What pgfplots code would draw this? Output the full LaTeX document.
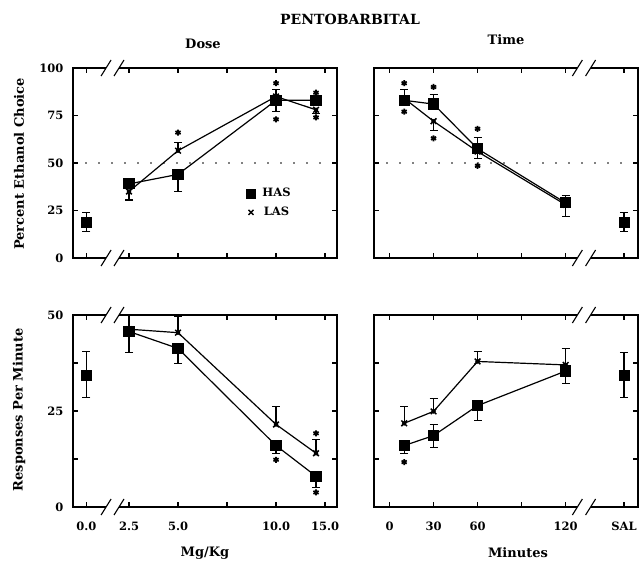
\documentclass[border=0pt]{standalone}
\usepackage{fontspec}
\setmainfont{DejaVu Serif}
\usepackage{pgfplots}
\pgfplotsset{compat=1.18}

\pgfplotsset{
  panel/.style={
    scale only axis, clip=false, tick align=inside,
    axis line style={line width=1.5pt},
    major tick length=5pt,
    every tick/.style={line width=1.1pt, black},
    every tick label/.append style={font=\bfseries\fontsize{11.5}{13}\selectfont},
    /pgf/number format/assume math mode=true,
    xticklabel style={yshift=-11pt},
    yticklabel style={xshift=-6pt},
  },
  has/.style={black, line width=1.2pt, mark=square*, mark size=5pt, mark options={solid}, forget plot},
  las/.style={black, line width=1.2pt, mark=x, mark size=4pt, mark options={solid, line width=1.5pt}, forget plot},
  ebar/.style={only marks, mark=none, forget plot, error bars/.cd, y explicit, y dir=#1,
     error bar style={line width=1.1pt, black},
     error mark options={rotate=90, mark size=4pt, line width=1.1pt, black}},
  star/.style={only marks, mark=asterisk, mark size=3pt, mark options={line width=1.7pt}, black, forget plot},
  sal/.style={only marks, mark=square*, mark size=5pt, black, forget plot},
  refl/.style={forget plot, black, line width=1.8pt, line cap=round, dash pattern=on 0pt off 13pt},
}
\newcommand{\brk}[3]{%
  \draw[white, line width=3pt] (axis cs:#1,#3) -- (axis cs:#2,#3);
  \draw[line width=1.1pt] ([shift={(-5pt,-8pt)}]axis cs:#1,#3) -- ([shift={(5pt,8pt)}]axis cs:#1,#3);
  \draw[line width=1.1pt] ([shift={(-5pt,-8pt)}]axis cs:#2,#3) -- ([shift={(5pt,8pt)}]axis cs:#2,#3);
}

\begin{document}
\begin{tikzpicture}[font=\bfseries]

% ---------- Top left: Dose / Percent ----------
\begin{axis}[panel, at={(73pt,-258pt)}, anchor=south west, width=264pt, height=190pt,
  xmin=-0.357, xmax=13.11, ymin=0, ymax=100,
  xtick={0.33,2.5,5,7.5,10,12.5}, xticklabels={},
  ytick={0,25,50,75,100},
  legend style={draw=none, fill=none, at={(0.645,0.389)}, anchor=north west,
    font=\bfseries\fontsize{11.5}{13}\selectfont, row sep=5pt}]
\addplot[refl] coordinates {(-0.357,50) (13.11,50)};
\addplot[ebar=plus] table[x=x,y=y,y error=e] {
x y e
0.33 19 5
2.5 39 2
5 56.5 4.5
10 85 3.5
12.04 83 2
};
\addplot[ebar=minus] table[x=x,y=y,y error=e] {
x y e
0.33 19 5
2.5 35 4.5
5 44 9
10 83 6
12.04 78 2
};
\addplot[has] table[x=x,y=y] {
x y
2.5 39
5 44
10 83
12.04 83
};
\addplot[las] table[x=x,y=y] {
x y
2.5 35
5 56.5
10 85
12.04 78
};
\addplot[sal] coordinates {(0.33,19)};
\addplot[star] coordinates {(5,66) (10,92) (10,73) (12.04,87) (12.04,74)};
\addlegendimage{only marks, mark=square*, mark size=4.5pt, black}
\addlegendentry{\hspace{5pt}HAS}
\addlegendimage{only marks, mark=x, mark size=3.5pt, black, mark options={line width=1.4pt}}
\addlegendentry{\hspace{5pt}LAS}
\brk{1.33}{1.99}{0}
\brk{1.33}{1.99}{100}
\end{axis}

% ---------- Top right: Time / Percent ----------
\begin{axis}[panel, at={(374pt,-258pt)}, anchor=south west, width=264pt, height=190pt,
  xmin=-10.57, xmax=169.3, ymin=0, ymax=100,
  xtick={0,30,60,90,120,159.75}, xticklabels={},
  ytick={0,25,50,75,100}, yticklabels={}]
\addplot[refl] coordinates {(-10.57,50) (169.3,50)};
\addplot[ebar=plus] table[x=x,y=y,y error=e] {
x y e
10 84 4.5
30 81 5
60 57.5 6
120 29 4
159.75 19 5
};
\addplot[ebar=minus] table[x=x,y=y,y error=e] {
x y e
10 83 2
30 72 5
60 56 3.5
120 28 6
159.75 19 5
};
\addplot[has] table[x=x,y=y] {
x y
10 83
30 81
60 57.5
120 29
};
\addplot[las] table[x=x,y=y] {
x y
10 84
30 72
60 56
120 28
};
\addplot[sal] coordinates {(159.75,19)};
\addplot[star] coordinates {(10,92) (10,77) (30,90) (30,63) (60,68) (60,48.5)};
\brk{128}{137}{0}
\brk{128}{137}{100}
\end{axis}

% ---------- Bottom left: Dose / Responses ----------
\begin{axis}[panel, at={(73pt,-507pt)}, anchor=south west, width=264pt, height=192pt,
  xmin=-0.357, xmax=13.11, ymin=0, ymax=50,
  xtick={0.33,2.5,5,7.5,10,12.5}, xticklabels={0.0,2.5,5.0,,10.0,15.0},
  ytick={0,12.5,25,37.5,50}, yticklabels={0,,25,,50}]
\addplot[ebar=plus] table[x=x,y=y,y error=e] {
x y e
0.33 34.4 6.1
2.5 46.3 3.5
5 45.4 4.3
10 21.5 4.7
12.04 14 3.5
};
\addplot[ebar=minus] table[x=x,y=y,y error=e] {
x y e
0.33 34.4 5.8
2.5 45.7 5.5
5 41.3 4
10 16 2
12.04 8 3
};
\addplot[has] table[x=x,y=y] {
x y
2.5 45.7
5 41.3
10 16
12.04 8
};
\addplot[las] table[x=x,y=y] {
x y
2.5 46.3
5 45.4
10 21.5
12.04 14
};
\addplot[sal] coordinates {(0.33,34.4)};
\addplot[star] coordinates {(10,12.3) (12.04,3.8) (12.04,19.2)};
\brk{1.33}{1.99}{0}
\brk{1.33}{1.99}{50}
\end{axis}

% ---------- Bottom right: Time / Responses ----------
\begin{axis}[panel, at={(374pt,-507pt)}, anchor=south west, width=264pt, height=192pt,
  xmin=-10.57, xmax=169.3, ymin=0, ymax=50,
  xtick={0,30,60,90,120,159.75}, xticklabels={0,30,60,,120,SAL},
  ytick={0,12.5,25,37.5,50}, yticklabels={}]
\addplot[ebar=plus] table[x=x,y=y,y error=e] {
x y e
10 21.8 4.4
30 24.9 3.3
30 18.6 2.8
60 37.9 2.7
120 37 4.2
159.75 34.4 5.8
};
\addplot[ebar=minus] table[x=x,y=y,y error=e] {
x y e
10 16 2
30 18.6 3.1
60 26.4 3.9
120 35.4 3.3
159.75 34.4 5.8
};
\addplot[has] table[x=x,y=y] {
x y
10 16
30 18.6
60 26.4
120 35.4
};
\addplot[las] table[x=x,y=y] {
x y
10 21.8
30 24.9
60 37.9
120 37
};
\addplot[sal] coordinates {(159.75,34.4)};
\addplot[star] coordinates {(10,11.7)};
\brk{128}{137}{0}
\brk{128}{137}{50}
\end{axis}

% ---------- Titles and labels ----------
\node[anchor=base, font=\bfseries\fontsize{14}{16}\selectfont] at (350pt,-25pt) {PENTOBARBITAL};
\node[anchor=base, font=\bfseries\fontsize{13}{15}\selectfont] at (203pt,-49pt) {Dose};
\node[anchor=base, font=\bfseries\fontsize{13}{15}\selectfont] at (506pt,-45pt) {Time};
\node[anchor=base, font=\bfseries\fontsize{13}{15}\selectfont] at (205pt,-556pt) {Mg/Kg};
\node[anchor=base, font=\bfseries\fontsize{13}{15}\selectfont] at (518pt,-557pt) {Minutes};
\node[rotate=90, font=\bfseries\fontsize{13}{15}\selectfont] at (19pt,-164pt) {Percent Ethanol Choice};
\node[rotate=90, font=\bfseries\fontsize{13}{15}\selectfont] at (19pt,-410pt) {Responses Per Minute};

\pgfresetboundingbox
\path[use as bounding box] (0pt,0pt) rectangle (640pt,-561pt);
\end{tikzpicture}
\end{document}
